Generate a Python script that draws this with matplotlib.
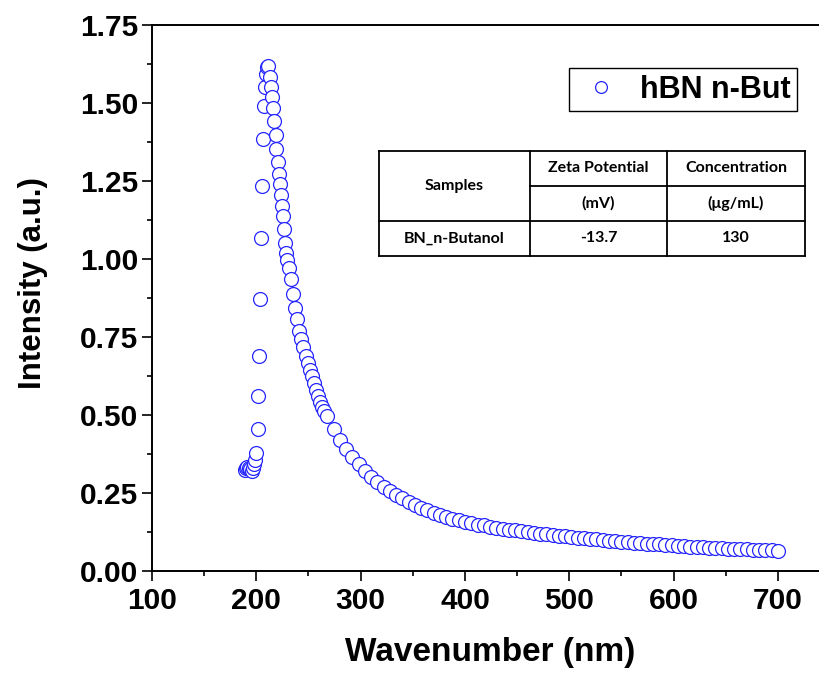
import matplotlib
matplotlib.use("Agg")
import matplotlib.pyplot as plt
from matplotlib.lines import Line2D
from matplotlib.ticker import MultipleLocator

plt.rcParams['font.family'] = ['Liberation Sans', 'DejaVu Sans']

# ---- data ----
rise_x = [189.5, 190.5, 191.5, 192.5, 194.0, 195.5, 197.0, 198.0, 199.0, 200.0,
          201.3, 201.9, 202.9, 203.8, 204.8, 205.5, 206.3, 207.2, 208.3, 209.3, 210.5]
rise_y = [0.325, 0.330, 0.334, 0.329, 0.326, 0.322, 0.330, 0.343, 0.355, 0.377,
          0.455, 0.561, 0.689, 0.871, 1.066, 1.234, 1.384, 1.490, 1.550, 1.593, 1.616]

peak_x = [211.5, 213.1, 214.1, 215.3, 216.3, 217.2, 218.6, 219.2, 220.5, 221.4,
          222.4, 223.4, 224.3, 225.3, 226.2, 227.2, 228.2, 229.4, 231.0, 233.2,
          235.1, 237.3, 239.3, 241.2, 243.1, 244.7, 247.3, 249.5, 251.4, 253.4,
          255.6, 257.2, 259.1, 261.0, 263.2, 265.0]
peak_y = [1.619, 1.584, 1.552, 1.520, 1.485, 1.443, 1.398, 1.353, 1.312, 1.272,
          1.239, 1.205, 1.171, 1.138, 1.095, 1.052, 1.018, 0.997, 0.970, 0.935,
          0.887, 0.842, 0.807, 0.770, 0.743, 0.717, 0.689, 0.666, 0.644, 0.625,
          0.604, 0.580, 0.561, 0.543, 0.527, 0.512]

tail_x = [268, 274, 280, 286, 292, 298, 304, 310, 316, 322, 328, 334, 340, 346, 352,
          358, 364, 370, 376, 382, 388, 394, 400, 406, 412, 418, 424, 430, 436, 442,
          448, 454, 460, 466, 472, 478, 484, 490, 496, 502, 508, 514, 520, 526, 532,
          538, 544, 550, 556, 562, 568, 574, 580, 586, 592, 598, 604, 610, 616, 622,
          628, 634, 640, 646, 652, 658, 664, 670, 676, 682, 688, 694, 700]
tail_y = [0.496, 0.454, 0.420, 0.391, 0.365, 0.342, 0.321, 0.302, 0.285, 0.270,
          0.257, 0.245, 0.233, 0.222, 0.212, 0.203, 0.195, 0.187, 0.180, 0.173,
          0.167, 0.162, 0.158, 0.153, 0.149, 0.146, 0.142, 0.139, 0.136, 0.133,
          0.130, 0.128, 0.125, 0.123, 0.120, 0.118, 0.116, 0.113, 0.111, 0.109,
          0.107, 0.105, 0.103, 0.101, 0.099, 0.097, 0.096, 0.094, 0.092, 0.091,
          0.089, 0.088, 0.086, 0.085, 0.083, 0.082, 0.081, 0.080, 0.078, 0.077,
          0.076, 0.075, 0.074, 0.073, 0.072, 0.071, 0.070, 0.069, 0.068, 0.067,
          0.066, 0.066, 0.065]

series_label = "hBN n-But"
x_ticks = [100, 200, 300, 400, 500, 600, 700]
y_ticks = [0.00, 0.25, 0.50, 0.75, 1.00, 1.25, 1.50, 1.75]

table_header1 = ["Samples", "Zeta Potential", "Concentration"]
table_header2 = ["", "(mV)", "(\u03bcg/mL)"]
table_row = ["BN_n-Butanol", "-13.7", "130"]

# ---- figure ----
W, H = 820, 675
fig = plt.figure(figsize=(W / 100, H / 100), dpi=100)
ax = fig.add_axes([152 / W, 104 / H, (823 - 152) / W, 546 / H])

xs = rise_x + peak_x + tail_x
ys = rise_y + peak_y + tail_y
ax.plot(xs, ys, linestyle='none', marker='o', markersize=10,
        markerfacecolor='white', markeredgecolor='#2525ff', markeredgewidth=0.9,
        label=series_label)

ax.set_xlim(100, 100 + (823 - 152) / 1.0433)
ax.set_ylim(0, 1.75)
ax.set_xticks(x_ticks)
ax.set_yticks(y_ticks)
ax.set_yticklabels([f"{v:.2f}" for v in y_ticks])
ax.xaxis.set_minor_locator(MultipleLocator(50))
ax.yaxis.set_minor_locator(MultipleLocator(0.125))
ax.tick_params(which='major', direction='out', length=7.5, width=1.2,
               labelsize=21.5, pad=4)
ax.tick_params(axis='y', which='major', pad=2.5)
ax.tick_params(which='minor', direction='out', length=3.5, width=1.2)
ax.tick_params(axis='x', top=False, which='both')
for lbl in ax.get_xticklabels() + ax.get_yticklabels():
    lbl.set_fontweight('bold')
for s in ['left', 'bottom', 'top']:
    ax.spines[s].set_linewidth(1.4)
ax.spines['right'].set_visible(False)

ax.set_xlabel("Wavenumber (nm)", fontsize=24, fontweight='bold')
ax.set_ylabel("Intensity (a.u.)", fontsize=22.5, fontweight='bold')
ax.xaxis.set_label_coords((490 - 152) / (823 - 152), -(653 - 571) / 546)
ax.yaxis.set_label_coords(-(152 - 33) / (823 - 152), (571 - 283.5) / 546)
ax.xaxis.label.set_va('center')
ax.yaxis.label.set_va('center')

leg = ax.legend(loc='upper right', bbox_to_anchor=(797 / W, 1 - 68 / H),
                bbox_transform=fig.transFigure, borderaxespad=0,
                prop={'size': 22, 'weight': 'bold'}, fancybox=False,
                edgecolor='black', framealpha=1, markerscale=0.85,
                handlelength=1.6, handletextpad=0.48, borderpad=0.22)
leg.get_frame().set_linewidth(1.0)

# ---- inset table (figure pixel layout) ----
def fx(px):
    return px / W

def fy(py):
    return 1 - py / H

cols = [379, 530, 667, 805]
rows = [151, 186, 221, 256]
lw = 1.3
for c in cols:
    fig.add_artist(Line2D([fx(c), fx(c)], [fy(rows[0]), fy(rows[3])],
                          color='black', lw=lw, transform=fig.transFigure))
for i, r in enumerate(rows):
    x0 = cols[0] if i != 1 else cols[1]
    fig.add_artist(Line2D([fx(x0), fx(cols[3])], [fy(r), fy(r)],
                          color='black', lw=lw, transform=fig.transFigure))

tfont = dict(family=['Lato', 'DejaVu Sans'], fontweight='bold', fontsize=11.5,
             ha='center', va='center')
ccent = [(cols[i] + cols[i + 1]) / 2 for i in range(3)]
fig.text(fx(ccent[0]), fy((rows[0] + rows[2]) / 2), table_header1[0], **tfont)
for i in (1, 2):
    fig.text(fx(ccent[i]), fy((rows[0] + rows[1]) / 2), table_header1[i], **tfont)
    fig.text(fx(ccent[i]), fy((rows[1] + rows[2]) / 2), table_header2[i], **tfont)
for i in range(3):
    fig.text(fx(ccent[i]), fy((rows[2] + rows[3]) / 2), table_row[i], **tfont)

fig.savefig("out.png", dpi=100)
